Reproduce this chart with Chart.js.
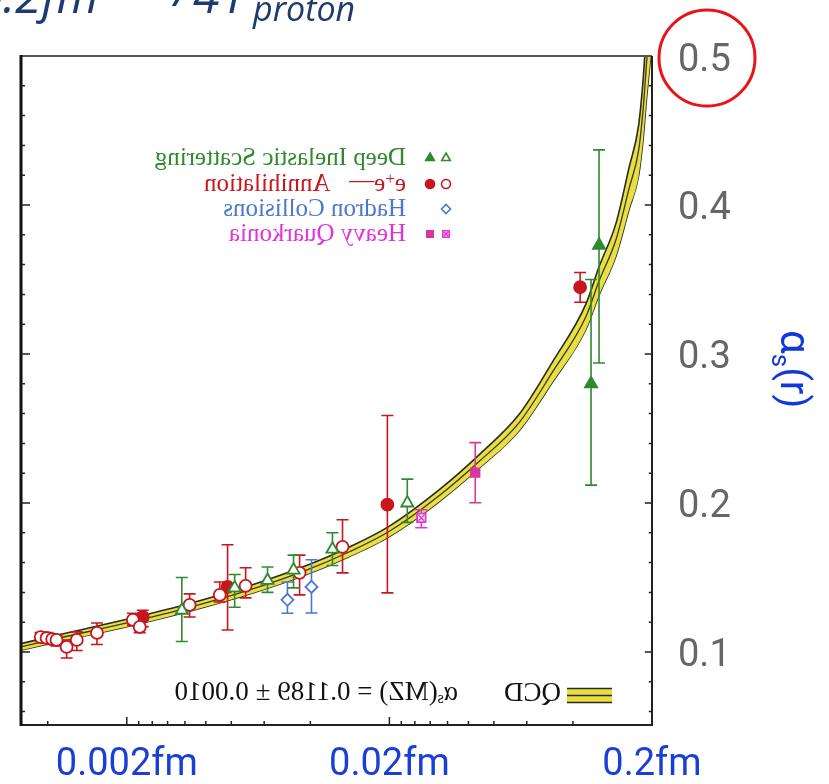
<!DOCTYPE html>
<html>
<head>
<meta charset="utf-8">
<script src="https://cdn.jsdelivr.net/npm/chart.js@4.4.0/dist/chart.umd.min.js"></script>
<style>
  body { margin: 0; background: #fff; }
  canvas { display: block; }
</style>
</head>
<body>
<canvas id="grafico" width="829" height="784"></canvas>
<script>
// distancia r (fm) y alpha_s medidos
const disAbiertoR = [0.00324, 0.00515, 0.00687, 0.00863, 0.01214, 0.0234];
const disAbiertoA = [0.128, 0.143, 0.148, 0.155, 0.169, 0.200];
const disAbiertoMin = [0.107, 0.130, 0.140, 0.143, 0.158, 0.187];
const disAbiertoMax = [0.150, 0.152, 0.157, 0.165, 0.180, 0.216];

const disLlenoR = [0.1257, 0.1172];
const disLlenoA = [0.373, 0.280];
const disLlenoMin = [0.294, 0.212];
const disLlenoMax = [0.437, 0.350];

const eeAbiertoR = [0.00094, 0.00099, 0.00104, 0.00108, 0.00118, 0.00129, 0.00154, 0.00211, 0.00224, 0.00347, 0.00452, 0.00567, 0.0091, 0.01326];
const eeAbiertoA = [0.110, 0.1094, 0.1087, 0.1081, 0.1034, 0.1081, 0.1128, 0.1215, 0.1168, 0.1316, 0.1383, 0.1444, 0.1531, 0.1706];
const eeAbiertoMin = [0.107, 0.106, 0.105, 0.104, 0.096, 0.101, 0.105, 0.118, 0.113, 0.1235, 0.1336, 0.1363, 0.1383, 0.1531];
const eeAbiertoMax = [0.113, 0.113, 0.112, 0.111, 0.108, 0.1135, 0.1195, 0.126, 0.121, 0.139, 0.147, 0.1565, 0.165, 0.1888];

const eeLlenoR = [0.0023, 0.00484, 0.01965, 0.1065];
const eeLlenoA = [0.1235, 0.1437, 0.1989, 0.3448];
const eeLlenoMin = [0.117, 0.1148, 0.1397, 0.3347];
const eeLlenoMax = [0.128, 0.172, 0.2587, 0.3547];

const hadronR = [0.00818, 0.0101];
const hadronA = [0.135, 0.1437];
const hadronMin = [0.126, 0.1262];
const hadronMax = [0.147, 0.1619];

const quarkLlenoR = [0.04246];
const quarkLlenoA = [0.2204];
const quarkLlenoMin = [0.2002];
const quarkLlenoMax = [0.2405];

const quarkAbiertoR = [0.02646];
const quarkAbiertoA = [0.190];
const quarkAbiertoMin = [0.1834];
const quarkAbiertoMax = [0.1955];

// banda QCD
const bandaR = [0.00079, 0.00111, 0.002, 0.00347, 0.00587, 0.00967, 0.0141, 0.02, 0.031, 0.044, 0.0624, 0.0834, 0.112, 0.1257, 0.146, 0.1635, 0.178, 0.1852, 0.191, 0.1983];
const bandaCentro = [0.1034, 0.1094, 0.1195, 0.130, 0.1417, 0.155, 0.1673, 0.181, 0.205, 0.228, 0.254, 0.2876, 0.325, 0.349, 0.377, 0.411, 0.437, 0.465, 0.497, 0.53];
const bandaAlta = [0.1056, 0.1117, 0.1220, 0.1326, 0.1445, 0.158, 0.1705, 0.1845, 0.209, 0.2325, 0.2595, 0.2944, 0.3335, 0.3585, 0.388, 0.425, 0.454, 0.485, 0.521, 0.558];
const bandaBaja = [0.1012, 0.1071, 0.1170, 0.1274, 0.1389, 0.152, 0.1641, 0.1775, 0.201, 0.2235, 0.2485, 0.2808, 0.3165, 0.3395, 0.366, 0.397, 0.420, 0.445, 0.473, 0.502];

// ejes
const xTicks = [0.002, 0.02, 0.2];
const xTickLabels = ["0.002fm", "0.02fm", "0.2fm"];
const xMayores = [0.002, 0.02];
const xMenores = [0.001, 0.00222, 0.0025, 0.00286, 0.00333, 0.004, 0.005, 0.00667, 0.01,
  0.0222, 0.025, 0.0286, 0.0333, 0.04, 0.05, 0.0667, 0.1];
const yTicks = [0.1, 0.2, 0.3, 0.4, 0.5];
const yTickLabels = ["0.1", "0.2", "0.3", "0.4", "0.5"];
const yMenores = [0.06, 0.08, 0.12, 0.14, 0.16, 0.18, 0.22, 0.24, 0.26, 0.28, 0.32, 0.34, 0.36, 0.38, 0.42, 0.44, 0.46, 0.48];

const leyendas = ["Deep Inelastic Scattering", "Annihilation", "Hadron Collisions", "Heavy Quarkonia"];

const VERDE = "#2f8a2f", ROJO = "#c8161e", AZUL = "#4a78d0", MAGENTA = "#e034d6";

const pts = (xs, ys) => xs.map((x, i) => ({ x: x, y: ys[i] }));

function serieMarcas(label, xs, ys, lo, hi, estilo, color, lleno, radio) {
  return {
    label: label,
    data: pts(xs, ys),
    errLo: lo,
    errHi: hi,
    showLine: false,
    pointStyle: estilo,
    pointRadius: radio,
    pointBorderWidth: 1.8,
    borderColor: color,
    backgroundColor: lleno ? color : "#ffffff",
    order: 1
  };
}

const datasets = [
  serieMarcas("DIS", disAbiertoR, disAbiertoA, disAbiertoMin, disAbiertoMax, "triangle", VERDE, false, 7),
  serieMarcas("DIS lleno", disLlenoR, disLlenoA, disLlenoMin, disLlenoMax, "triangle", VERDE, true, 7),
  serieMarcas("e+e-", eeAbiertoR, eeAbiertoA, eeAbiertoMin, eeAbiertoMax, "circle", ROJO, false, 6),
  serieMarcas("e+e- lleno", eeLlenoR, eeLlenoA, eeLlenoMin, eeLlenoMax, "circle", ROJO, true, 6),
  serieMarcas("Hadron", hadronR, hadronA, hadronMin, hadronMax, "rectRot", AZUL, false, 6),
  serieMarcas("Quarkonia", quarkAbiertoR, quarkAbiertoA, quarkAbiertoMin, quarkAbiertoMax, "rect", MAGENTA, false, 6),
  {
    label: "Quarkonia x", data: pts(quarkAbiertoR, quarkAbiertoA), showLine: false,
    pointStyle: "crossRot", pointRadius: 4, pointBorderWidth: 1.4, borderColor: MAGENTA, order: 0
  },
  serieMarcas("Quarkonia lleno", quarkLlenoR, quarkLlenoA, quarkLlenoMin, quarkLlenoMax, "rect", "#d8379f", true, 6),
  {
    label: "centro", data: pts(bandaR, bandaCentro), showLine: true, pointRadius: 0,
    borderColor: "#3b3a22", borderWidth: 1.3, cubicInterpolationMode: "monotone", order: 5
  },
  {
    label: "alta", data: pts(bandaR, bandaAlta), showLine: true, pointRadius: 0,
    borderColor: "#2a2a1a", borderWidth: 1.6, backgroundColor: "#e8df45",
    fill: "+1", cubicInterpolationMode: "monotone", order: 6
  },
  {
    label: "baja", data: pts(bandaR, bandaBaja), showLine: true, pointRadius: 0,
    borderColor: "#2a2a1a", borderWidth: 1.6, cubicInterpolationMode: "monotone", order: 7
  }
];

function dibujarMarca(ctx, estilo, x, y, r, color, lleno) {
  ctx.save();
  ctx.strokeStyle = color;
  ctx.fillStyle = lleno ? color : "#fff";
  ctx.lineWidth = 1.6;
  Chart.helpers.drawPoint(ctx, { pointStyle: estilo, radius: r, rotation: 0, borderWidth: 1.6 }, x, y);
  ctx.restore();
}

// texto espejado: se escribe hacia la izquierda desde xDer
function textoEspejo(ctx, partes, xDer, y) {
  ctx.save();
  ctx.translate(xDer, y);
  ctx.scale(-1, 1);
  ctx.textBaseline = "middle";
  ctx.textAlign = "left";
  let cx = 0;
  partes.forEach(p => {
    ctx.font = p.font;
    ctx.fillStyle = p.color;
    ctx.fillText(p.t, cx, p.dy || 0);
    cx += ctx.measureText(p.t).width;
  });
  ctx.restore();
}

const marco = {
  id: "marco",
  beforeDatasetDraw(chart, args) {
    const ds = chart.data.datasets[args.index];
    if (!ds.errLo) return;
    const { ctx, chartArea: a } = chart;
    const xs = chart.scales.x, ys = chart.scales.y;
    ctx.save();
    ctx.beginPath();
    ctx.rect(a.left, a.top, a.right - a.left, a.bottom - a.top);
    ctx.clip();
    ctx.strokeStyle = ds.borderColor;
    ctx.lineWidth = 1.6;
    ds.data.forEach((p, i) => {
      const x = xs.getPixelForValue(p.x);
      const y1 = ys.getPixelForValue(ds.errLo[i]);
      const y2 = ys.getPixelForValue(ds.errHi[i]);
      ctx.beginPath();
      ctx.moveTo(x, y1); ctx.lineTo(x, y2);
      ctx.moveTo(x - 6, y1); ctx.lineTo(x + 6, y1);
      ctx.moveTo(x - 6, y2); ctx.lineTo(x + 6, y2);
      ctx.stroke();
    });
    ctx.restore();
  },
  afterDraw(chart) {
    const { ctx, chartArea: a } = chart;
    const xs = chart.scales.x, ys = chart.scales.y;
    ctx.save();

    // marco
    ctx.strokeStyle = "#555";
    ctx.lineWidth = 2;
    ctx.beginPath(); ctx.moveTo(a.left, a.top); ctx.lineTo(a.right, a.top); ctx.stroke();
    ctx.strokeStyle = "#222";
    ctx.beginPath(); ctx.moveTo(a.right, a.top); ctx.lineTo(a.right, a.bottom); ctx.lineTo(a.left, a.bottom); ctx.stroke();
    ctx.lineWidth = 3;
    ctx.strokeStyle = "#111";
    ctx.beginPath(); ctx.moveTo(a.left, a.top - 1); ctx.lineTo(a.left, a.bottom + 1); ctx.stroke();

    // marcas de los ejes, hacia dentro
    ctx.lineWidth = 1.5;
    ctx.strokeStyle = "#222";
    const marcaY = (v, largo) => {
      const y = ys.getPixelForValue(v);
      ctx.beginPath();
      ctx.moveTo(a.left, y); ctx.lineTo(a.left + largo, y);
      ctx.moveTo(a.right, y); ctx.lineTo(a.right - largo * 0.8, y);
      ctx.stroke();
    };
    yTicks.slice(0, 4).forEach(v => marcaY(v, 9));
    yMenores.forEach(v => marcaY(v, 4));
    const marcaX = (v, largo) => {
      const x = xs.getPixelForValue(v);
      ctx.beginPath(); ctx.moveTo(x, a.bottom); ctx.lineTo(x, a.bottom - largo); ctx.stroke();
    };
    xMayores.forEach(v => marcaX(v, 8));
    xMenores.forEach(v => marcaX(v, 4));

    // leyenda espejada
    const serif = '"Liberation Serif", "DejaVu Serif", serif';
    const f = "25px " + serif;
    const filas = [158, 184, 209, 234];
    const xTexto = 406;
    textoEspejo(ctx, [{ t: leyendas[0], font: f, color: VERDE }], xTexto, filas[0]);
    textoEspejo(ctx, [
      { t: "e", font: f, color: ROJO },
      { t: "+", font: "17px " + serif, color: ROJO, dy: -4 },
      { t: "e", font: f, color: ROJO },
      { t: "\u2014", font: f, color: ROJO, dy: -3 },
      { t: "   " + leyendas[1], font: f, color: ROJO }
    ], xTexto, filas[1]);
    textoEspejo(ctx, [{ t: leyendas[2], font: f, color: AZUL }], xTexto, filas[2]);
    textoEspejo(ctx, [{ t: leyendas[3], font: f, color: MAGENTA }], xTexto, filas[3]);

    dibujarMarca(ctx, "triangle", 430, filas[0], 5, VERDE, true);
    dibujarMarca(ctx, "triangle", 446, filas[0], 5, VERDE, false);
    dibujarMarca(ctx, "circle", 430, filas[1], 4.5, ROJO, true);
    dibujarMarca(ctx, "circle", 446, filas[1], 4.5, ROJO, false);
    dibujarMarca(ctx, "rectRot", 446, filas[2], 4.5, AZUL, false);
    dibujarMarca(ctx, "rect", 430, filas[3], 4.5, "#d8379f", true);
    dibujarMarca(ctx, "rect", 446, filas[3], 4.5, MAGENTA, false);
    dibujarMarca(ctx, "crossRot", 446, filas[3], 3, MAGENTA, false);

    // leyenda de la banda
    const fb = "27px " + serif;
    textoEspejo(ctx, [
      { t: "\u03b1", font: fb, color: "#111" },
      { t: "s", font: "16px " + serif, color: "#111", dy: 6 },
      { t: "(MZ) = 0.1189 \u00b1 0.0010", font: fb, color: "#111" }
    ], 458, 693);
    textoEspejo(ctx, [{ t: "QCD", font: "27px " + serif, color: "#111" }], 561, 694);
    ctx.fillStyle = "#e8df45";
    ctx.fillRect(567, 688, 45, 15);
    ctx.strokeStyle = "#2a2a1a";
    ctx.lineWidth = 1.6;
    [688.5, 695.5, 702.5].forEach(y => {
      ctx.beginPath(); ctx.moveTo(567, y); ctx.lineTo(612, y); ctx.stroke();
    });

    // titulo del eje: alpha_s(r), girado
    ctx.save();
    ctx.translate(781, 330);
    ctx.rotate(Math.PI / 2);
    ctx.fillStyle = "#1238d8";
    ctx.textBaseline = "alphabetic";
    ctx.font = "42px Roboto";
    ctx.fillText("\u03b1", 0, 0);
    let w = ctx.measureText("\u03b1").width;
    ctx.font = "26px Roboto";
    ctx.fillText("s", w, 9);
    w += ctx.measureText("s").width;
    ctx.font = "40px Roboto";
    ctx.fillText("(r)", w, 0);
    ctx.restore();

    // circulo rojo en 0.5
    ctx.strokeStyle = "#e8141a";
    ctx.lineWidth = 3;
    ctx.beginPath();
    ctx.arc(707, 58, 48, 0, Math.PI * 2);
    ctx.stroke();

    // titulo cortado arriba
    ctx.fillStyle = "#1c3b6e";
    ctx.textBaseline = "alphabetic";
    ctx.textAlign = "left";
    ctx.font = 'italic 48px "Open Sans"';
    const w0 = ctx.measureText("0.").width;
    ctx.fillText("0.2fm", 15 - w0, 13);
    ctx.fillText("/", 174, 6);
    ctx.fillText("4", 193, 13);
    ctx.fillText("r", 228, 13);
    ctx.font = 'italic 34px "Open Sans"';
    ctx.fillText("proton", 253, 21);

    ctx.restore();
  }
};

new Chart(document.getElementById("grafico"), {
  type: "scatter",
  data: { datasets: datasets },
  options: {
    responsive: false,
    devicePixelRatio: 1,
    animation: false,
    layout: { padding: { top: 56, left: 21, right: 0, bottom: 0 } },
    plugins: { legend: { display: false }, tooltip: { enabled: false } },
    scales: {
      x: {
        type: "logarithmic",
        min: 0.000791,
        max: 0.2,
        grid: { display: false, drawTicks: false },
        border: { display: false },
        afterBuildTicks: s => { s.ticks = xTicks.map(v => ({ value: v })); },
        afterFit: s => { s.height = 59; },
        ticks: {
          autoSkip: false,
          maxRotation: 0,
          padding: 18,
          color: "#1a3fd6",
          font: { family: "Roboto", size: 38 },
          callback: v => xTickLabels[xTicks.indexOf(v)] || ""
        }
      },
      y: {
        position: "right",
        min: 0.051,
        max: 0.5,
        grid: { display: false, drawTicks: false },
        border: { display: false },
        afterBuildTicks: s => { s.ticks = yTicks.map(v => ({ value: v })); },
        afterFit: s => { s.width = 177; },
        ticks: {
          padding: 26,
          labelOffset: 5,
          color: "#666",
          font: { family: "Roboto", size: 38 },
          callback: v => yTickLabels[yTicks.indexOf(v)] || ""
        }
      }
    }
  },
  plugins: [marco]
});
</script>
</body>
</html>
